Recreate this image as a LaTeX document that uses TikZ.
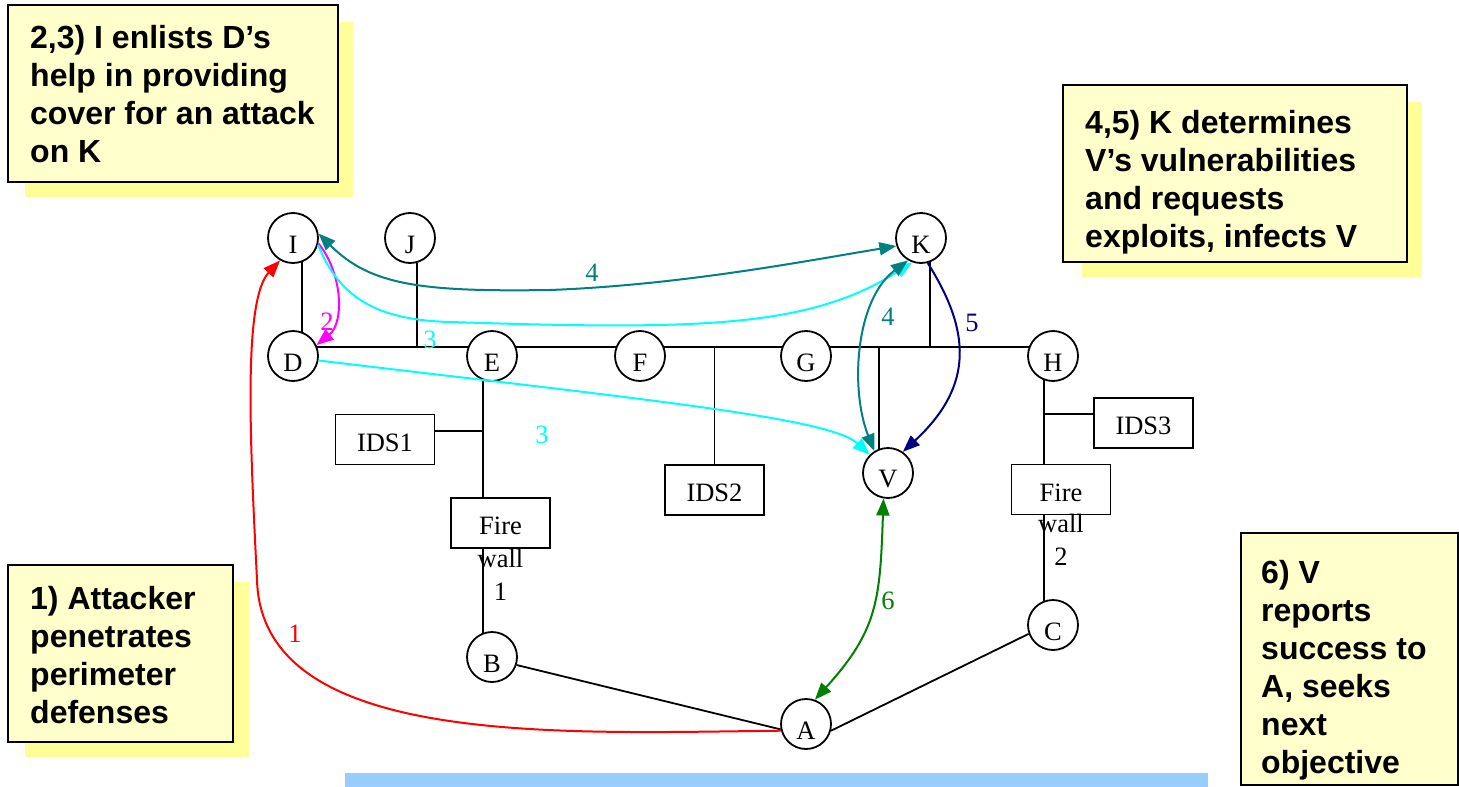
\documentclass[tikz,border=0pt]{standalone}
\usepackage{fontspec}
\setmainfont{Liberation Serif}
\newfontfamily\calloutfont{Liberation Sans}
\usetikzlibrary{arrows.meta}
\definecolor{boxfill}{RGB}{255,255,204}
\definecolor{boxshadow}{RGB}{255,255,153}
\definecolor{barblue}{RGB}{153,204,255}
\definecolor{tealc}{RGB}{0,128,128}
\definecolor{cyanc}{RGB}{0,255,255}
\definecolor{magc}{RGB}{255,0,255}
\definecolor{navyc}{RGB}{0,0,128}
\definecolor{greenc}{RGB}{0,128,0}
\definecolor{redc}{RGB}{255,0,0}
\newcommand{\lowtxt}[2]{\raisebox{-#1}[\height][\depth]{#2}}
\begin{document}
\begin{tikzpicture}[x=1pt,y=-1pt,
  host/.style={circle,draw=black,line width=1.8pt,fill=white,minimum size=50pt,inner sep=0pt,
    font=\fontsize{26.5}{30}\selectfont},
  devbox/.style={rectangle,draw=black,line width=1.8pt,fill=white,minimum width=99pt,minimum height=50pt,inner sep=0pt,
    font=\fontsize{26.5}{30}\selectfont},
  wire/.style={line width=1.8pt,black},
  flow/.style={line width=2pt,-{Triangle[length=17pt,width=13pt]}},
  flowboth/.style={line width=2pt,{Triangle[length=17pt,width=13pt]}-{Triangle[length=17pt,width=13pt]}},
  numlbl/.style={inner sep=0pt,font=\fontsize{26.5}{30}\selectfont},
  calloutbox/.style={draw=black,line width=2pt,fill=boxfill},
  callshadow/.style={fill=boxshadow,draw=none},
  callouttext/.style={anchor=north west,inner sep=0pt,align=left,
    font=\calloutfont\bfseries\fontsize{32}{38}\selectfont}
]
\useasboundingbox (0,0) rectangle (1459,787);

% callout boxes
\fill[callshadow] (25,22) rectangle (353,197);
\draw[calloutbox] (8,5) rectangle (338,182);
\node[callouttext] (t23) at (30,25) {2,3) I enlists D’s\\help in providing\\cover for an attack\\on K};

\fill[callshadow] (1082,102) rectangle (1422,277);
\draw[calloutbox] (1063,85) rectangle (1407,262);
\node[callouttext] (t45) at (1085,110) {4,5) K determines\\V’s vulnerabilities\\and requests\\exploits, infects V};

\fill[callshadow] (25,582) rectangle (249,757);
\draw[calloutbox] (8,565) rectangle (233,742);
\node[callouttext] (t1) at (30,586) {1) Attacker\\penetrates\\perimeter\\defenses};

\draw[calloutbox] (1241,533) rectangle (1458,785);
\node[callouttext] (t6) at (1261,560) {6) V\\reports\\success to\\A, seeks\\next\\objective};

% blue bar
\fill[barblue] (345,773) rectangle (1208,787);

% hosts
\node[host] (I) at (293,238) {\lowtxt{6.5pt}{I}};
\node[host] (J) at (410,238) {\lowtxt{6.5pt}{J}};
\node[host] (K) at (921,238) {\lowtxt{6.5pt}{K}};
\node[host] (D) at (293,356) {\lowtxt{6.5pt}{D}};
\node[host] (E) at (492,356) {\lowtxt{6.5pt}{E}};
\node[host] (F) at (640,356) {\lowtxt{6.5pt}{F}};
\node[host] (G) at (806,356) {\lowtxt{6.5pt}{G}};
\node[host] (H) at (1053,356) {\lowtxt{6.5pt}{H}};
\node[host] (V) at (888,473) {\lowtxt{6.5pt}{V}};
\node[host] (B) at (492,657) {\lowtxt{6.5pt}{B}};
\node[host] (C) at (1053,625) {\lowtxt{6.5pt}{C}};
\node[host] (A) at (806,724) {\lowtxt{6.5pt}{A}};

% devices
\node[devbox] (IDS1) at (385,439.5) {\lowtxt{3pt}{IDS1}};
\node[devbox] (IDS2) at (714.5,490) {\lowtxt{3pt}{IDS2}};
\node[devbox] (IDS3) at (1143.5,423) {\lowtxt{3pt}{IDS3}};
\node[devbox] (FW1) at (500.5,523) {\lowtxt{3pt}{Fire}};
\node[devbox] (FW2) at (1061,489.5) {\lowtxt{3pt}{Fire}};

% wiring
\draw[wire] (D.20) -- (E.160);
\draw[wire] (E.20) -- (F.160);
\draw[wire] (F.20) -- (G.160);
\draw[wire] (G.20) -- (H.160);
\draw[wire] (I.-70) -- (D.70);
\draw[wire] (J.-75) -- (J.-75 |- D.20);
\draw[wire] (K.-70) -- (K.-70 |- D.20);
\draw[wire] (V.110) -- (V.110 |- D.20);
\draw[wire] (IDS2.north) -- (IDS2.north |- D.20);
\draw[wire] (E.-110) -- (E.-110 |- FW1.north);
\draw[wire] ([yshift=8.5pt]IDS1.east) -- ([yshift=8.5pt]IDS1.east -| E.-110);
\draw[wire] (B.110) -- (B.110 |- FW1.south);
\draw[wire] (H.-110) -- (H.-110 |- FW2.north);
\draw[wire] ([yshift=9pt]IDS3.west) -- ([yshift=9pt]IDS3.west -| H.-110);
\draw[wire] (C.110) -- (C.110 |- FW2.south);
\draw[wire] (B.-18) -- (A.192);
\draw[wire] (A.-15) -- (C.200);

% firewall captions
\node[numlbl,anchor=north,align=center,font=\fontsize{26.5}{32.5}\selectfont] (fw1cap) at (500.5,549) {wall\\1};
\node[numlbl,anchor=north,align=center,font=\fontsize{26.5}{32.5}\selectfont] (fw2cap) at (1061,514) {wall\\2};

% attack flows
\coordinate (r1) at (257,580);
\draw[flow,redc] (A.195) .. controls (560,733) and (262,748) .. (r1) .. controls (250,440) and (243,300) .. (I.-120);

\draw[flow,magc] (I.-12) .. controls (342,272) and (345,322) .. (D.25);

\coordinate (c1) at (450,322);
\draw[flow,cyanc] (I.-15) .. controls (340,300) and (380,320) .. (c1) .. controls (700,330) and (810,328) .. (K.-110);
\draw[flow,cyanc] (D.-10) .. controls (650,400) and (830,418) .. (V.135);

\coordinate (t1c) at (550,290);
\draw[flowboth,tealc] (I.10) .. controls (370,285) and (420,292) .. (t1c) .. controls (680,285) and (800,262) .. (K.198);
\draw[flowboth,tealc] (V.122) .. controls (850,390) and (855,300) .. (K.-120);

\draw[flow,navyc] (K.-75) .. controls (970,330) and (975,385) .. (V.55);

\draw[flowboth,greenc] (V.-100) .. controls (880,600) and (878,630) .. (A.70);

% flow numbers
\node[numlbl,text=redc] (n1) at (295,634) {1};
\node[numlbl,text=magc] (n2) at (327,322) {2};
\node[numlbl,text=cyanc] (n3a) at (430,340) {3};
\node[numlbl,text=cyanc] (n3b) at (542,435) {3};
\node[numlbl,text=tealc] (n4a) at (592,273) {4};
\node[numlbl,text=tealc] (n4b) at (888,317) {4};
\node[numlbl,text=navyc] (n5) at (972,323) {5};
\node[numlbl,text=greenc] (n6) at (888,601) {6};
\end{tikzpicture}
\end{document}
